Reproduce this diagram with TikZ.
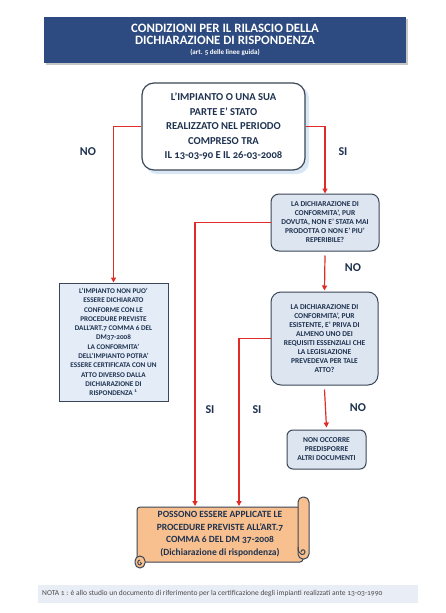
\documentclass[tikz,border=0pt]{standalone}
\usepackage{fontspec}
\setmainfont{Carlito}[Numbers=OldStyle]
\usetikzlibrary{arrows.meta,calc}
\definecolor{hdr}{HTML}{2D4B80}
\definecolor{navy}{HTML}{1E3250}
\definecolor{bord}{HTML}{3B4656}
\definecolor{qfill}{HTML}{DDE5F0}
\definecolor{lfill}{HTML}{E3ECF7}
\definecolor{sfill}{HTML}{F8C08F}
\definecolor{arr}{HTML}{E02B27}
\definecolor{nfill}{HTML}{E9EEF6}
\definecolor{ntext}{HTML}{4A4A4A}
\definecolor{glow}{HTML}{D9E6F4}
\tikzset{
  qbox/.style={draw=bord, line width=1pt, fill=qfill, rounded corners=8pt, align=center,
    text=navy, font=\bfseries\fontsize{7.5}{9}\selectfont, inner sep=0pt},
  lab/.style={text=navy, font=\bfseries\fontsize{12}{14}\selectfont},
  conn/.style={draw=arr, line width=1.2pt, -{Triangle[width=5pt,length=5pt]}},
}
\begin{document}
\begin{tikzpicture}[x=1pt,y=-1pt]
\useasboundingbox[fill=white] (0,0) rectangle (446,613);
% header
\fill[gray!45] (46,19) rectangle (408,65);
\node[fill=hdr, minimum width=362pt, minimum height=46pt, inner sep=0pt, align=center, text=white] (hdr) at (225,40)
  {\bfseries\fontsize{12.8}{15}\selectfont CONDIZIONI PER IL RILASCIO DELLA\\
   \bfseries\fontsize{12.8}{15}\selectfont DICHIARAZIONE DI RISPONDENZA\\[-2pt]
   \bfseries\fontsize{7}{8}\selectfont (art. 5 delle linee guida)};
% main box
\fill[glow, rounded corners=12pt] (145,86) rectangle (309,174);
\node[draw=bord, line width=1.2pt, fill=white, rounded corners=12pt, minimum width=163pt, minimum height=87pt,
  inner sep=0pt, align=center, text=navy, font=\bfseries\fontsize{10.6}{14.5}\selectfont] (main) at (223.5,126.5)
  {L'IMPIANTO O UNA SUA\\PARTE E' STATO\\REALIZZATO NEL PERIODO\\COMPRESO TRA\\IL 13-03-90 E IL 26-03-2008};
% question 1
\node[qbox, minimum width=108pt, minimum height=57pt] (q1) at (325,222.5)
  {LA DICHIARAZIONE DI\\CONFORMITA', PUR\\DOVUTA, NON E' STATA MAI\\PRODOTTA O NON E' PIU'\\REPERIBILE?};
% question 2
\node[qbox, rounded corners=10pt, minimum width=107pt, minimum height=93pt] (q2) at (324.5,338.5)
  {LA DICHIARAZIONE DI\\CONFORMITA', PUR\\ESISTENTE, E' PRIVA DI\\ALMENO UNO DEI\\REQUISITI ESSENZIALI CHE\\LA LEGISLAZIONE\\PREVEDEVA PER TALE\\ATTO?};
% not box
\node[draw=bord, line width=1pt, fill=lfill, minimum width=109pt, minimum height=118pt, inner sep=0pt,
  align=center, text=navy, font=\bfseries\fontsize{7.2}{9.3}\selectfont] (left) at (113.5,342)
  {L'IMPIANTO NON PUO'\\ESSERE DICHIARATO\\CONFORME CON LE\\PROCEDURE PREVISTE\\DALL'ART.7 COMMA 6 DEL\\DM37-2008\\LA CONFORMITA'\\DELL'IMPIANTO POTRA'\\ESSERE CERTIFICATA CON UN\\ATTO DIVERSO DALLA\\DICHIARAZIONE DI\\RISPONDENZA \textsuperscript{1}};
% no other documents
\node[qbox, rounded corners=6pt, minimum width=79pt, minimum height=39pt] (q4) at (326.5,449.5)
  {NON OCCORRE\\PREDISPORRE\\ALTRI DOCUMENTI};
% scroll
\begin{scope}[draw=bord, line width=1pt, fill=sfill]
  \filldraw[rounded corners=3pt] (137,507) -- (303,507) -- (303,562) -- (137,562) -- cycle;
  \filldraw[rounded corners=5pt] (298,497) rectangle (309,559);
  \draw (298,547) .. controls (298,556) and (305,556) .. (305,552) .. controls (305,549) and (301,549) .. (301,552);
  \filldraw[rounded corners=5pt] (135,556) rectangle (145,568);
  \draw (140,560) .. controls (137,560) and (137,565) .. (140,565) .. controls (142,565) and (142,562) .. (140,562);
\end{scope}
\node[align=center, text=navy, font=\bfseries\fontsize{9.5}{12.5}\selectfont, inner sep=0pt] (scroll) at (220,534)
  {POSSONO ESSERE APPLICATE LE\\PROCEDURE PREVISTE ALL'ART.7\\COMMA 6 DEL DM 37-2008\\(Dichiarazione di rispondenza)};
\coordinate (sA) at (195,506);
\coordinate (sB) at (239,506);
% note
\node[fill=nfill, minimum width=380pt, minimum height=18pt, inner sep=0pt] (note) at (228,594) {};
\node[anchor=west, text=ntext, font=\fontsize{7.5}{8}\selectfont, inner sep=0pt] (notetext) at (42,594)
  {NOTA 1 : è allo studio un documento di riferimento per la certificazione degli impianti realizzati ante 13-03-1990};
% connectors
\draw[conn] (main.west) -| (left.north);
\draw[conn] (main.east) -| (q1.north);
\draw[conn] ($(q1.south)+(0,4)$) -- ($(q2.north)+(0,-1)$);
\draw[conn] ($(q2.south)+(0,4)$) -- ($(q4.north)+(0,-2)$);
\draw[conn] (q1.west) -| (sA);
\draw[conn] (q2.west) -| (sB);
% labels
\node[lab] (no1) at (88,152) {NO};
\node[lab] (si1) at (343,152) {SI};
\node[lab] (no2) at (353,268) {NO};
\node[lab] (si2) at (210,410) {SI};
\node[lab] (si3) at (257,410) {SI};
\node[lab] (no3) at (358,408) {NO};
\end{tikzpicture}
\end{document}
